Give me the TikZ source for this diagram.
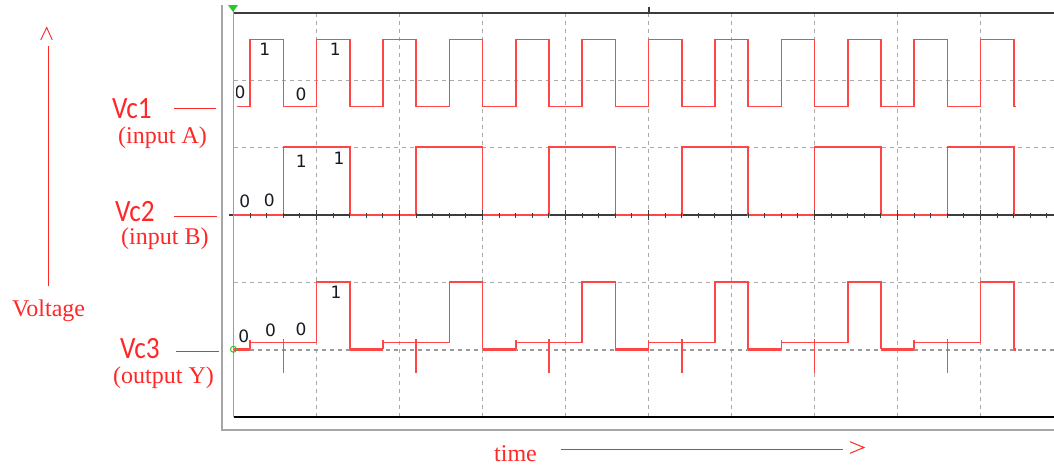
\documentclass[tikz,border=0pt]{standalone}
\usepackage{fontspec}
\setmainfont{Liberation Serif}
\newfontfamily\calib{Carlito}
\newfontfamily\dvs{DejaVu Sans}
\definecolor{sigred}{RGB}{255,70,70}
\definecolor{lblred}{RGB}{255,40,40}
\definecolor{gridgray}{RGB}{170,170,170}
\definecolor{axgray}{RGB}{60,60,60}
\definecolor{framegray}{RGB}{165,165,165}
\definecolor{magentaline}{RGB}{255,90,255}
\definecolor{digit}{RGB}{25,25,35}
\definecolor{mkgreen}{RGB}{40,200,40}
\begin{document}
\begin{tikzpicture}[x=1pt,y=-1pt,
  sig/.style={sigred,line width=1.6pt},
  gridline/.style={gridgray,line width=1.3pt,dash pattern=on 4pt off 4pt},
  bigname/.style={text=lblred,font=\calib\fontsize{31}{31}\selectfont,inner sep=0pt,anchor=base west,xscale=0.88},
  subname/.style={text=lblred,font=\fontsize{24}{24}\selectfont,inner sep=0pt,anchor=base west},
  bit/.style={text=digit,font=\dvs\fontsize{17}{17}\selectfont,inner sep=0pt,anchor=center},
  lblline/.style={lblred,line width=1pt}]
\fill[white] (0,0) rectangle (1054,466);
\useasboundingbox (0,0) rectangle (1054,466);

% grid
\foreach \i in {1,...,9} \draw[gridline] ({233.5+83*\i},13) -- ({233.5+83*\i},417);
\foreach \y in {80.3,147.6,282.2} \draw[gridline] (233.5,\y) -- (1054,\y);
\draw[gridline,line width=2pt,color=gray!80] (233.5,349.5) -- (1054,349.5);

% middle axis
\draw[axgray,line width=1.3pt] (229,215) -- (1054,215);

% signals
\begin{scope}[shift={(233.5,0)},x=16.6pt]
\def\L{349.3}\def\M{342.5}\def\H{282.2}
\draw[sig] (0.21,106.5) foreach \k in {0,...,11}{ -- ({1+4*\k},106.5) -- ({1+4*\k},39.5) -- ({3+4*\k},39.5) -- ({3+4*\k},106.5)} -- (47.15,106.5);
\draw[sig] (0,215) foreach \k in {0,...,5}{ -- ({3+8*\k},215) -- ({3+8*\k},147) -- ({7+8*\k},147) -- ({7+8*\k},215)};
\draw[sig] foreach \k in {0,...,5}{ ({1+8*\k},\L) -- ({1+8*\k},339.5) ({1+8*\k},\M) -- ({5+8*\k},\M) -- ({5+8*\k},\H) -- ({7+8*\k},\H) -- ({7+8*\k},\L) };
\draw[sigred,line width=2.6pt] (0,\L) -- (1,\L) foreach \k in {0,...,4}{ ({7+8*\k},\L) -- ({9+8*\k},\L) } (47,\L) -- (47.15,\L);
\draw[sig] foreach \k in {0,...,5}{ ({3+8*\k},339) -- ({3+8*\k},372.5) };
\end{scope}

% ticks
\foreach \t in {1,...,49} \draw[axgray,line width=1pt] ({233.5+16.6*\t},212.5) -- ({233.5+16.6*\t},217.5);
\foreach \i in {1,...,9} \draw[axgray,line width=1.3pt] ({233.5+83*\i},210) -- ({233.5+83*\i},220);

% frame
\draw[axgray,line width=1.5pt] (233.5,13) -- (1054,13);
\draw[axgray,line width=1.2pt] (649,7) -- (649,14);
\draw[black,line width=1.5pt] (233.5,417) -- (1054,417);
\draw[framegray,line width=2pt] (222,5) -- (222,430) -- (1054,430);
\draw[magentaline,line width=1.5pt] (233.5,11) -- (233.5,417);
\fill[mkgreen] (228,5) -- (238,5) -- (233,12) -- cycle;
\draw[mkgreen,line width=1pt] (233.5,349.3) circle[radius=3];

% bits
\begin{scope}
\clip (236.5,60) rectangle (260,120);
\node[bit] (b1) at (240,92) {0};
\end{scope}
\node[bit] (b2) at (264.7,49) {1};
\node[bit] (b3) at (301,94.7) {0};
\node[bit] (b4) at (335.3,49) {1};
\node[bit] (b5) at (244.7,201.7) {0};
\node[bit] (b6) at (269.3,200) {0};
\node[bit] (b7) at (301.3,161) {1};
\node[bit] (b8) at (339,158.3) {1};
\node[bit] (b9) at (243.8,336) {0};
\node[bit] (b10) at (270.5,330) {0};
\node[bit] (b11) at (301,329.7) {0};
\node[bit] (b12) at (336,292.3) {1};

% labels
\node[bigname] (vc1) at (112,118) {Vc1};
\node[subname] (ina) at (118,143) {(input A)};
\coordinate (v1a) at (174,108.7); \coordinate (v1b) at (216,108.7);
\draw[lblline] (v1a) -- (v1b);
\node[bigname] (vc2) at (115,221.5) {Vc2};
\node[subname] (inb) at (121,244.5) {(input B)};
\coordinate (v2a) at (174,216); \coordinate (v2b) at (217,216);
\draw[lblline] (v2a) -- (v2b);
\node[bigname] (vc3) at (120,358) {Vc3};
\node[subname] (outy) at (113,383) {(output Y)};
\coordinate (v3a) at (176,351); \coordinate (v3b) at (219,351);
\draw[lblline] (v3a) -- (v3b);

\node[subname] (volt) at (12,316) {Voltage};
\coordinate (va) at (48,286); \coordinate (vb) at (48,46);
\draw[lblline] (va) -- (vb);
\coordinate (c1) at (40.7,40); \coordinate (c2) at (46.7,27.5); \coordinate (c3) at (52.3,40);
\draw[lblred,line width=0.9pt] (c1) -- (c2) -- (c3);

\node[subname] (time) at (494,461) {time};
\coordinate (ta) at (560.7,449); \coordinate (tb) at (843.3,449);
\draw[lblline] (ta) -- (tb);
\coordinate (g1) at (850,441.7); \coordinate (g2) at (864,447.5); \coordinate (g3) at (850,453.3);
\draw[lblred,line width=1pt] (g1) -- (g2) -- (g3);
\end{tikzpicture}
\end{document}
